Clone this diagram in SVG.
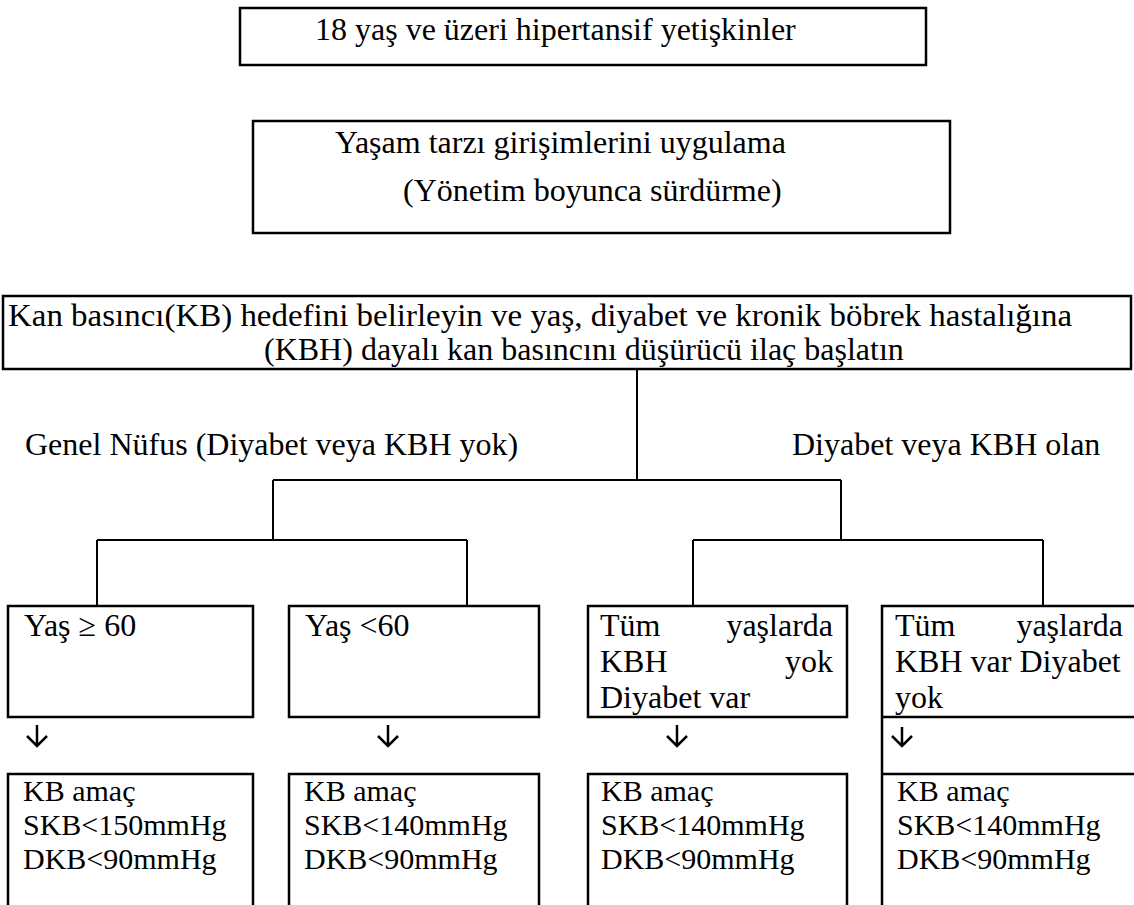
<svg xmlns="http://www.w3.org/2000/svg" width="1134" height="905" viewBox="0 0 1134 905">
<style>
.box{fill:#fff;stroke:#000;stroke-width:2.5}
.edge{fill:none;stroke:#000;stroke-width:2.5}
.ln{stroke:#000;stroke-width:2;fill:none}
.ar{stroke:#000;stroke-width:2.5;fill:none}
.t{font-family:"Liberation Serif","Times New Roman",serif;font-size:32px;fill:#000}
.s{font-size:30px}
.e{text-anchor:end}
</style>
<rect width="1134" height="905" fill="#fff"/>
<g id="n-top"><rect class="box" x="240" y="8" width="686" height="57"/><text class="t" x="315" y="40">18 yaş ve üzeri hipertansif yetişkinler</text></g>
<g id="n-lifestyle"><rect class="box" x="253" y="121" width="697" height="112"/><text class="t" x="335" y="153">Yaşam tarzı girişimlerini uygulama</text><text class="t" x="403" y="201">(Yönetim boyunca sürdürme)</text></g>
<g id="n-target"><rect class="box" x="3" y="296" width="1128" height="73"/><text class="t" x="8" y="326" textLength="1064" lengthAdjust="spacingAndGlyphs">Kan basıncı(KB) hedefini belirleyin ve yaş, diyabet ve kronik böbrek hastalığına</text><text class="t" x="264" y="360">(KBH) dayalı kan basıncını düşürücü ilaç başlatın</text></g>
<g id="lbl-general"><text class="t" x="25" y="455">Genel Nüfus (Diyabet veya KBH yok)</text></g>
<g id="lbl-diab"><text class="t" x="792" y="455">Diyabet veya KBH olan</text></g>
<g id="n-age60"><rect class="box" x="8" y="606" width="245" height="111"/><text class="t" x="24" y="636">Yaş ≥ 60</text></g>
<g id="n-ageless"><rect class="box" x="289" y="606" width="250" height="111"/><text class="t" x="305" y="636">Yaş &lt;60</text></g>
<g id="n-diab"><rect class="box" x="588" y="606" width="259" height="111"/><text class="t" x="600" y="636">Tüm</text><text class="t e" x="833" y="636">yaşlarda</text><text class="t" x="600" y="672">KBH</text><text class="t e" x="833" y="672">yok</text><text class="t" x="600" y="708">Diyabet var</text></g>
<g id="n-kbh"><path class="edge" d="M1136 606H882V905M882 717H1136"/><text class="t" x="895" y="636">Tüm</text><text class="t e" x="1123" y="636">yaşlarda</text><text class="t" x="895" y="672">KBH var Diyabet</text><text class="t" x="895" y="708">yok</text></g>
<g id="g1"><rect class="box" x="8" y="774" width="245" height="140"/><text class="t s" x="23" y="801">KB amaç</text><text class="t s" x="23" y="835">SKB&lt;150mmHg</text><text class="t s" x="23" y="869">DKB&lt;90mmHg</text></g>
<g id="g2"><rect class="box" x="289" y="774" width="250" height="140"/><text class="t s" x="304" y="801">KB amaç</text><text class="t s" x="304" y="835">SKB&lt;140mmHg</text><text class="t s" x="304" y="869">DKB&lt;90mmHg</text></g>
<g id="g3"><rect class="box" x="588" y="774" width="259" height="140"/><text class="t s" x="601" y="801">KB amaç</text><text class="t s" x="601" y="835">SKB&lt;140mmHg</text><text class="t s" x="601" y="869">DKB&lt;90mmHg</text></g>
<g id="g4"><path class="edge" d="M882 774H1136"/><text class="t s" x="897" y="801">KB amaç</text><text class="t s" x="897" y="835">SKB&lt;140mmHg</text><text class="t s" x="897" y="869">DKB&lt;90mmHg</text></g>
<g id="connectors">
<path class="ln" d="M637 370V480M273 480H841M273 480V540M841 480V540M97 540H467M693 540H1043M97 540V606M467 540V606M693 540V606M1043 540V606"/>
<path class="ar" d="M37 725V746M27 736L37 746L47 736"/>
<path class="ar" d="M388 725V746M378 736L388 746L398 736"/>
<path class="ar" d="M677 725V746M667 736L677 746L687 736"/>
<path class="ar" d="M902 727V746M892 736L902 746L912 736"/>
</g>
</svg>
